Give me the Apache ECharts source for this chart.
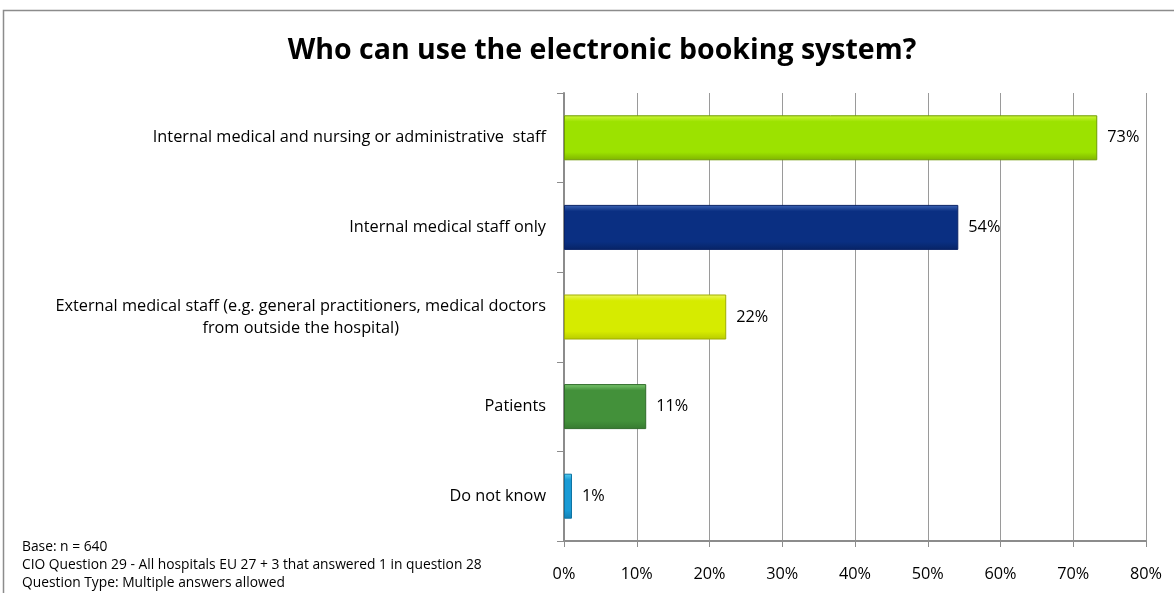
<!DOCTYPE html>
<html>
<head>
<meta charset="utf-8">
<script src="https://cdn.jsdelivr.net/npm/echarts@6/dist/echarts.min.js"></script>
<style>
html,body{margin:0;padding:0;background:#fff;}
#chart{width:1174px;height:593px;}
</style>
</head>
<body>
<div id="chart"></div>
<script>
const titleText = 'Who can use the electronic booking system?';
const categories = [
  'Internal medical and nursing or administrative  staff',
  'Internal medical staff only',
  'External medical staff (e.g. general practitioners, medical doctors\nfrom outside the hospital)',
  'Patients',
  'Do not know'
];
const values = [73.3, 54.2, 22.3, 11.3, 1.1];
const xTicks = [0, 10, 20, 30, 40, 50, 60, 70, 80];
const footnotes = [
  'Base: n = 640',
  'CIO Question 29 - All hospitals EU 27 + 3 that answered 1 in question 28',
  'Question Type: Multiple answers allowed'
];
// [top highlight, main, bottom shade, border]
const barColors = [
  ['#d2f83c', '#9ce200', '#7fb400', '#6e9c00'],
  ['#3f66b5', '#0a2f82', '#072466', '#0a2366'],
  ['#eef860', '#d6eb00', '#b9cb00', '#a0ad00'],
  ['#7cc870', '#43913a', '#377a30', '#2f6b29'],
  ['#56d0f2', '#1a9bd5', '#1480b3', '#0f74a3']
];

const FONT = '"Open Sans", Lato, sans-serif';
const FS = 16.3;
const chart = echarts.init(document.getElementById('chart'), null, {renderer: 'canvas'});

const seriesData = values.map((v, i) => ({
  value: v,
  itemStyle: {
    color: new echarts.graphic.LinearGradient(0, 0, 0, 1, [
      {offset: 0, color: barColors[i][0]},
      {offset: 0.14, color: barColors[i][1]},
      {offset: 0.82, color: barColors[i][1]},
      {offset: 1, color: barColors[i][2]}
    ]),
    borderColor: barColors[i][3],
    borderWidth: 1
  }
}));

chart.setOption({
  animation: false,
  backgroundColor: '#fff',
  title: {
    text: titleText,
    left: 597,
    textAlign: 'center',
    top: 31,
    textStyle: {fontFamily: FONT, fontSize: 28.5, fontWeight: 'bold', color: '#000'}
  },
  grid: {left: 564, right: 28, top: 93, bottom: 52, containLabel: false},
  xAxis: {
    type: 'value',
    min: 0, max: 80, interval: 10,
    axisLine: {show: true, lineStyle: {color: '#8c8c8c', width: 2}},
    axisTick: {show: true, length: 6, lineStyle: {color: '#8c8c8c', width: 1}},
    splitLine: {show: true, lineStyle: {color: '#9a9a9a', width: 1}},
    axisLabel: {
      margin: 25,
      fontFamily: FONT, fontSize: FS, color: '#000',
      formatter: v => xTicks.includes(v) ? v + '%' : ''
    }
  },
  yAxis: {
    type: 'category',
    inverse: true,
    data: categories,
    axisLine: {show: true, lineStyle: {color: '#8c8c8c', width: 2}},
    axisTick: {show: true, length: 7, lineStyle: {color: '#8c8c8c', width: 1}},
    axisLabel: {
      margin: 18,
      fontFamily: FONT, fontSize: FS, color: '#000',
      lineHeight: 22,
      formatter: v => v.split('\n').map(l => '{c|' + l + '}').join('\n'),
      rich: {c: {align: 'center', fontFamily: FONT, fontSize: FS, color: '#000', lineHeight: 22}}
    }
  },
  series: [{
    type: 'bar',
    data: seriesData,
    barWidth: 45,
    label: {
      show: true,
      position: 'right',
      distance: 10,
      fontFamily: FONT, fontSize: FS, color: '#000',
      formatter: p => Math.round(p.value) + '%'
    }
  }],
  graphic: [
    {type: 'polyline', shape: {points: [[3.5, 593], [3.5, 10.5], [1174, 10.5]]},
     style: {stroke: '#8c8c8c', lineWidth: 1.5, fill: null}, silent: true},
    ...footnotes.map((t, i) => ({
      type: 'text', left: 22, top: 540 + i * 18,
      style: {text: t, fontFamily: FONT, fontSize: 13.8, fill: '#000'}
    }))
  ]
});
</script>
</body>
</html>
